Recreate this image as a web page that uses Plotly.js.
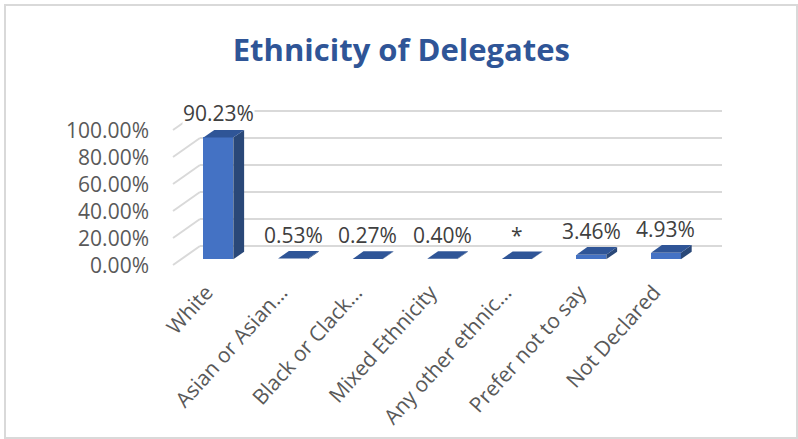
<!DOCTYPE html>
<html>
<head>
<meta charset="utf-8">
<script src="https://cdn.plot.ly/plotly-3.0.1.min.js"></script>
<style>
  html, body { margin: 0; padding: 0; background: #ffffff; }
  #wrap { position: relative; width: 798px; height: 439px; }
  #chart { width: 798px; height: 439px; }
  #frame { position: absolute; left: 4px; top: 4px; width: 790px; height: 431px;
           border: 2px solid #d9d9d9; pointer-events: none; }
</style>
</head>
<body>
<div id="wrap">
  <div id="chart"></div>
  <div id="frame"></div>
</div>
<script>
// ---- data ----
const categories = ["White", "Asian or Asian...", "Black or Clack...", "Mixed Ethnicity",
                    "Any other ethnic...", "Prefer not to say", "Not Declared"];
const shares = [0.9023, 0.0053, 0.0027, 0.0040, 0.0018, 0.0346, 0.0493];
const shareLabels = ["90.23%", "0.53%", "0.27%", "0.40%", "*", "3.46%", "4.93%"];
const yTickVals = [0, 0.2, 0.4, 0.6, 0.8, 1.0];
const chartTitle = "Ethnicity of Delegates";

// ---- 3D look (oblique projection in data units) ----
const DX = 0.362;     // x shift per unit of depth (category units)
const DY = 0.1407;    // y shift per unit of depth (value units)
const BAR_W = 0.4;
const BAR_D = 0.4;    // bar depth
const FRONT = -0.3, BACK = 0.7;   // walls, relative to bar front plane
const idx = categories.map((_, i) => i);
const n = categories.length;
const X = (c, d) => c + d * DX;
const Y = (v, d) => v + d * DY;

const COL_FRONT = "#4472C4", COL_TOP = "#2F5597", COL_SIDE = "#2A4878";

const traces = [];
traces.push({
  type: "bar", x: idx, y: shares, width: BAR_W,
  marker: { color: COL_FRONT, line: { width: 0 } },
  hoverinfo: "skip", showlegend: false
});
shares.forEach((v, i) => {
  const l = i - BAR_W / 2, r = i + BAR_W / 2;
  // side face
  traces.push({
    type: "scatter", mode: "lines", fill: "toself", fillcolor: COL_SIDE,
    line: { width: 0, color: COL_SIDE },
    x: [r, r, X(r, BAR_D), X(r, BAR_D), r],
    y: [0, v, Y(v, BAR_D), Y(0, BAR_D), 0],
    hoverinfo: "skip", showlegend: false
  });
  // top face
  traces.push({
    type: "scatter", mode: "lines", fill: "toself", fillcolor: COL_TOP,
    line: { width: 0, color: COL_TOP },
    x: [l, r, X(r, BAR_D), X(l, BAR_D), l],
    y: [v, v, Y(v, BAR_D), Y(v, BAR_D), v],
    hoverinfo: "skip", showlegend: false
  });
});

// walls (gridlines on back wall + side wall)
const shapes = [];
yTickVals.forEach(v => {
  shapes.push({ type: "line", xref: "x", yref: "y", layer: "below",
    x0: X(-0.5, BACK), y0: Y(v, BACK), x1: X(n - 0.5, BACK), y1: Y(v, BACK),
    line: { color: "#d9d9d9", width: 2 } });
  shapes.push({ type: "line", xref: "x", yref: "y", layer: "below",
    x0: X(-0.5, FRONT), y0: Y(v, FRONT), x1: X(-0.5, BACK), y1: Y(v, BACK),
    line: { color: "#d9d9d9", width: 2 } });
});

const annotations = shares.map((v, i) => ({
  x: i, y: v, xref: "x", yref: "y", text: shareLabels[i], showarrow: false,
  yshift: 24, bgcolor: v > 0.5 ? "#ffffff" : "rgba(0,0,0,0)", borderpad: 0,
  font: { family: "Open Sans", size: 21, color: "#404040" }
}));

const layout = {
  width: 798, height: 439,
  margin: { l: 150, r: 76, t: 100, b: 164 },
  paper_bgcolor: "#ffffff", plot_bgcolor: "rgba(0,0,0,0)",
  showlegend: false,
  title: {
    text: "<b>" + chartTitle + "</b>",
    font: { family: "Open Sans", size: 31, color: "#2F5597" },
    x: 0.503, xref: "container", xanchor: "center",
    y: 0.886, yref: "container", yanchor: "middle"
  },
  xaxis: {
    range: [-0.917, 6.751], tickvals: idx, ticktext: categories,
    tickangle: -48, showgrid: false, zeroline: false, showline: false, ticks: "",
    ticklabelshift: -12,
    tickfont: { family: "Open Sans", size: 21, color: "#595959" }, fixedrange: true
  },
  yaxis: {
    range: [-0.1163, 1.18], tickvals: yTickVals, tickformat: ".2%",
    showgrid: false, zeroline: false, showline: false, ticks: "",
    ticklabelshift: 6,
    tickfont: { family: "Open Sans", size: 21, color: "#595959" }, fixedrange: true
  },
  shapes: shapes,
  annotations: annotations,
  bargap: 0
};

Plotly.newPlot("chart", traces, layout, { staticPlot: true, displayModeBar: false });
</script>
</body>
</html>
